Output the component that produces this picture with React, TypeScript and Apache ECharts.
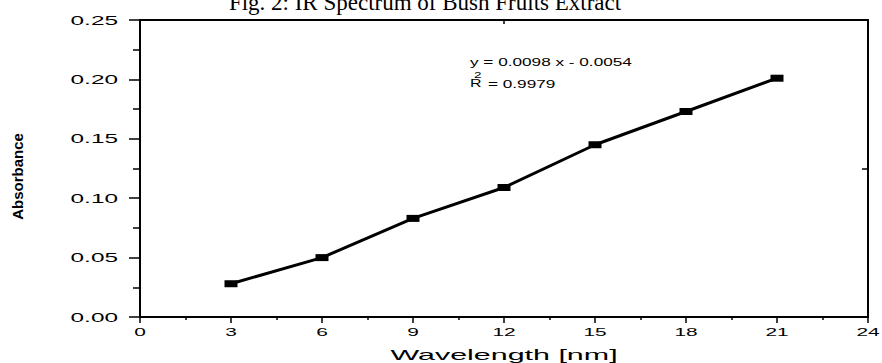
import React, { useEffect, useRef } from 'react';
import * as echarts from 'echarts';

const wavelengths = [3, 6, 9, 12, 15, 18, 21];
const absorbance = [0.028, 0.05, 0.083, 0.109, 0.145, 0.173, 0.201];
const xTicks = [0, 3, 6, 9, 12, 15, 18, 21, 24];
const yTicks = [0, 0.05, 0.1, 0.15, 0.2, 0.25];
const yTickLabels = ['0.00', '0.05', '0.10', '0.15', '0.20', '0.25'];
const titleText = 'Fig. 2: IR Spectrum of Bush Fruits Extract';
const xAxisName = 'Wavelength [nm]';
const yAxisName = 'Absorbance';
const equationText = 'y = 0.0098 x - 0.0054';
const r2Label = 'R';
const r2Sup = '2';
const r2Value = '= 0.9979';

const SANS = '"Liberation Sans", Arial, Helvetica, sans-serif';
const SERIF = '"Liberation Serif", "Times New Roman", serif';

export default function App() {
  const ref = useRef<HTMLDivElement>(null);

  useEffect(() => {
    if (!ref.current) return;
    const chart = echarts.init(ref.current, undefined, { renderer: 'svg' });
    const black = '#000';
    const option: any = {
      animation: false,
      backgroundColor: '#fff',
      grid: { left: 140, right: 14, top: 20, bottom: 46, containLabel: false },
      xAxis: [
        {
          type: 'value', min: 0, max: 24, interval: 3, position: 'bottom',
          axisLine: { show: true, onZero: false, lineStyle: { color: black, width: 2 } },
          axisTick: { show: true, inside: false, length: 6, lineStyle: { color: black, width: 1.5 } },
          minorTick: { show: true, splitNumber: 2, length: 3, lineStyle: { color: black, width: 1.5 } },
          axisLabel: { show: false },
          splitLine: { show: false },
        },
        {
          type: 'value', min: 0, max: 24, interval: 12, position: 'top',
          axisLine: { show: true, onZero: false, lineStyle: { color: black, width: 2 } },
          axisTick: { show: true, inside: true, length: 4, lineStyle: { color: black, width: 1.5 } },
          axisLabel: { show: false },
          splitLine: { show: false },
        },
      ],
      yAxis: [
        {
          type: 'value', min: 0, max: 0.25, interval: 0.05, position: 'left',
          axisLine: { show: true, onZero: false, lineStyle: { color: black, width: 2 } },
          axisTick: { show: true, inside: false, length: 11, lineStyle: { color: black, width: 1.5 } },
          minorTick: { show: true, splitNumber: 2, length: 7, lineStyle: { color: black, width: 1.5 } },
          axisLabel: { show: false },
          splitLine: { show: false },
        },
        {
          type: 'value', min: 0, max: 0.25, interval: 0.125, position: 'right',
          axisLine: { show: true, onZero: false, lineStyle: { color: black, width: 2 } },
          axisTick: { show: true, inside: true, length: 6, lineStyle: { color: black, width: 1.5 } },
          axisLabel: { show: false },
          splitLine: { show: false },
        },
      ],
      series: [
        {
          type: 'line',
          xAxisIndex: 0,
          yAxisIndex: 0,
          data: wavelengths.map((w, i) => [w, absorbance[i]]),
          symbol: 'rect',
          symbolSize: [13, 7],
          lineStyle: { color: black, width: 3 },
          itemStyle: { color: black },
          z: 5,
        },
      ],
    };
    chart.setOption(option);

    const x0 = chart.convertToPixel({ xAxisIndex: 0 }, 0) as number;
    const x24 = chart.convertToPixel({ xAxisIndex: 0 }, 24) as number;
    const y0 = chart.convertToPixel({ yAxisIndex: 0 }, 0) as number;
    const y25 = chart.convertToPixel({ yAxisIndex: 0 }, 0.25) as number;

    const graphic: any[] = [];
    xTicks.forEach((v) => {
      graphic.push({
        type: 'text',
        x: chart.convertToPixel({ xAxisIndex: 0 }, v) as number,
        y: y0 + 15,
        scaleX: 1.8,
        style: {
          text: String(v), font: `11.6px ${SANS}`, fill: black,
          align: 'center', verticalAlign: 'middle', textAlign: 'center', textVerticalAlign: 'middle',
        },
      });
    });
    yTicks.forEach((v, i) => {
      graphic.push({
        type: 'text',
        x: x0 - 22,
        y: chart.convertToPixel({ yAxisIndex: 0 }, v) as number,
        scaleX: 1.95,
        style: {
          text: yTickLabels[i], font: `12.5px ${SANS}`, fill: black,
          align: 'right', verticalAlign: 'middle', textAlign: 'right', textVerticalAlign: 'middle',
        },
      });
    });
    graphic.push({
      type: 'text',
      x: (x0 + x24) / 2,
      y: y0 + 38,
      scaleX: 2.1,
      style: {
        text: xAxisName, font: `14.5px ${SANS}`, fill: black,
        align: 'center', verticalAlign: 'middle', textAlign: 'center', textVerticalAlign: 'middle',
      },
    });
    graphic.push({
      type: 'text',
      x: 17,
      y: (y0 + y25) / 2 + 8,
      rotation: Math.PI / 2,
      style: {
        text: yAxisName, font: `bold 15px ${SANS}`, fill: black,
        align: 'center', verticalAlign: 'middle', textAlign: 'center', textVerticalAlign: 'middle',
      },
    });
    graphic.push({
      type: 'text',
      x: 425,
      y: 2,
      style: {
        text: titleText, font: `23px ${SERIF}`, fill: black,
        align: 'center', verticalAlign: 'middle', textAlign: 'center', textVerticalAlign: 'middle',
      },
    });
    graphic.push({
      type: 'text',
      x: 470,
      y: 62,
      scaleX: 1.72,
      style: {
        text: equationText, font: `10px ${SANS}`, fill: black,
        align: 'left', verticalAlign: 'middle', textAlign: 'left', textVerticalAlign: 'middle',
      },
    });
    graphic.push({
      type: 'text',
      x: 470,
      y: 83.5,
      scaleX: 1.6,
      style: {
        text: r2Label, font: `10px ${SANS}`, fill: black,
        align: 'left', verticalAlign: 'middle', textAlign: 'left', textVerticalAlign: 'middle',
      },
    });
    graphic.push({
      type: 'text',
      x: 474,
      y: 74.5,
      scaleX: 1.5,
      style: {
        text: r2Sup, font: `9px ${SANS}`, fill: black,
        align: 'left', verticalAlign: 'middle', textAlign: 'left', textVerticalAlign: 'middle',
      },
    });
    graphic.push({
      type: 'text',
      x: 488,
      y: 84,
      scaleX: 1.72,
      style: {
        text: r2Value, font: `10px ${SANS}`, fill: black,
        align: 'left', verticalAlign: 'middle', textAlign: 'left', textVerticalAlign: 'middle',
      },
    });
    chart.setOption({ graphic });

    return () => chart.dispose();
  }, []);

  return (
    <div
      ref={ref}
      style={{ position: 'fixed', left: 0, top: 0, width: 882, height: 363, background: '#fff' }}
    />
  );
}
